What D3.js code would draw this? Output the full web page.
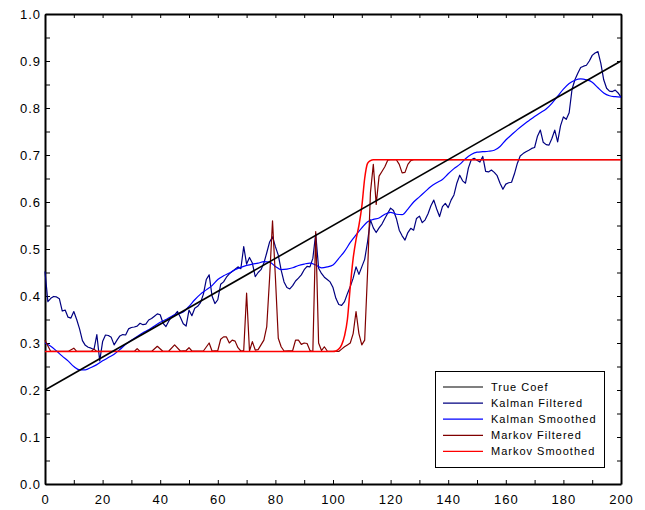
<!DOCTYPE html>
<html>
<head>
<meta charset="utf-8">
<script src="https://cdn.jsdelivr.net/npm/d3@7/dist/d3.min.js"></script>
<style>
  html, body { margin: 0; padding: 0; background: #fff; }
  svg { display: block; }
  .tick text { font-family: "Liberation Sans", Arial, sans-serif; font-size: 13px; letter-spacing: 1px; fill: #000; }
  .legend text { font-family: "Liberation Sans", Arial, sans-serif; font-size: 11px; letter-spacing: 1px; fill: #000; }
</style>
</head>
<body>
<script>
const chartWidth = 645;
const chartHeight = 510;

const margin = { top: 14, right: 24, bottom: 26, left: 45 };
const plotWidth = chartWidth - margin.left - margin.right;
const plotHeight = chartHeight - margin.top - margin.bottom;

// axis ticks (minor every other one, labels on the majors)
const xTickValues = [0, 10, 20, 30, 40, 50, 60, 70, 80, 90, 100, 110, 120, 130, 140, 150, 160, 170, 180, 190, 200];
const xTickLabels = [0, 20, 40, 60, 80, 100, 120, 140, 160, 180, 200];
const yTickValues = [0, 0.05, 0.1, 0.15, 0.2, 0.25, 0.3, 0.35, 0.4, 0.45, 0.5, 0.55, 0.6, 0.65, 0.7, 0.75, 0.8, 0.85, 0.9, 0.95, 1.0];
const yTickLabels = [0, 0.1, 0.2, 0.3, 0.4, 0.5, 0.6, 0.7, 0.8, 0.9, 1.0];

const seriesNames = ['True Coef', 'Kalman Filtered', 'Kalman Smoothed', 'Markov Filtered', 'Markov Smoothed'];
const seriesColours = ['#000000', '#000080', '#0000ff', '#800000', '#ff0000'];

// [t, value]
const trueCoef = [[0, 0.2], [200, 0.9]];

const kalmanFiltered = [
  [0, 0.452], [1, 0.388], [2, 0.395], [3, 0.399], [4, 0.398], [5, 0.394], [6, 0.368], [7, 0.370], [8, 0.355], [9, 0.353],
  [10, 0.367], [11, 0.350], [12, 0.330], [13, 0.305], [14, 0.295], [15, 0.291], [16, 0.289], [17, 0.286], [18, 0.318], [19, 0.262],
  [20, 0.303], [21, 0.317], [22, 0.316], [23, 0.312], [24, 0.296], [25, 0.306], [26, 0.315], [27, 0.318], [28, 0.317], [29, 0.330],
  [30, 0.333], [31, 0.334], [32, 0.336], [33, 0.342], [34, 0.339], [35, 0.340], [36, 0.349], [37, 0.352], [38, 0.357], [39, 0.362],
  [40, 0.360], [41, 0.342], [42, 0.335], [43, 0.347], [44, 0.356], [45, 0.360], [46, 0.367], [47, 0.355], [48, 0.341], [49, 0.336],
  [50, 0.370], [51, 0.358], [52, 0.374], [53, 0.378], [54, 0.386], [55, 0.404], [56, 0.435], [57, 0.445], [58, 0.400], [59, 0.384],
  [60, 0.392], [61, 0.425], [62, 0.430], [63, 0.440], [64, 0.447], [65, 0.452], [66, 0.457], [67, 0.462], [68, 0.458], [69, 0.505],
  [70, 0.468], [71, 0.482], [72, 0.470], [73, 0.441], [74, 0.450], [75, 0.456], [76, 0.470], [77, 0.492], [78, 0.515], [79, 0.526],
  [80, 0.505], [81, 0.487], [82, 0.455], [83, 0.430], [84, 0.418], [85, 0.415], [86, 0.422], [87, 0.432], [88, 0.438], [89, 0.445],
  [90, 0.456], [91, 0.463], [92, 0.462], [93, 0.480], [94, 0.533], [95, 0.459], [96, 0.448], [97, 0.440], [98, 0.435], [99, 0.430],
  [100, 0.418], [101, 0.395], [102, 0.382], [103, 0.380], [104, 0.388], [105, 0.405], [106, 0.420], [107, 0.438], [108, 0.462], [109, 0.446],
  [110, 0.462], [111, 0.478], [112, 0.515], [113, 0.562], [114, 0.545], [115, 0.535], [116, 0.545], [117, 0.553], [118, 0.565], [119, 0.576],
  [120, 0.587], [121, 0.582], [122, 0.565], [123, 0.540], [124, 0.528], [125, 0.519], [126, 0.535], [127, 0.544], [128, 0.540], [129, 0.565],
  [130, 0.570], [131, 0.556], [132, 0.562], [133, 0.575], [134, 0.592], [135, 0.604], [136, 0.585], [137, 0.569], [138, 0.590], [139, 0.597],
  [140, 0.588], [141, 0.604], [142, 0.615], [143, 0.640], [144, 0.657], [145, 0.645], [146, 0.640], [147, 0.672], [148, 0.690], [149, 0.693],
  [150, 0.689], [151, 0.685], [152, 0.697], [153, 0.665], [154, 0.664], [155, 0.668], [156, 0.663], [157, 0.656], [158, 0.640], [159, 0.627],
  [160, 0.638], [161, 0.641], [162, 0.642], [163, 0.660], [164, 0.682], [165, 0.698], [166, 0.703], [167, 0.707], [168, 0.710], [169, 0.714],
  [170, 0.716], [171, 0.740], [172, 0.753], [173, 0.727], [174, 0.722], [175, 0.721], [176, 0.735], [177, 0.753], [178, 0.728], [179, 0.762],
  [180, 0.781], [181, 0.776], [182, 0.790], [183, 0.840], [184, 0.860], [185, 0.874], [186, 0.886], [187, 0.889], [188, 0.891], [189, 0.900],
  [190, 0.912], [191, 0.917], [192, 0.920], [193, 0.895], [194, 0.860], [195, 0.842], [196, 0.836], [197, 0.835], [198, 0.838], [199, 0.832],
  [200, 0.823]
];

const kalmanSmoothed = [
  [0, 0.300], [2, 0.293], [4, 0.283], [6, 0.272], [8, 0.262], [10, 0.250], [12, 0.243], [14, 0.243], [16, 0.248], [18, 0.254],
  [20, 0.262], [22, 0.269], [24, 0.276], [26, 0.286], [28, 0.297], [30, 0.306], [32, 0.314], [34, 0.322], [36, 0.328], [38, 0.336],
  [40, 0.344], [42, 0.350], [44, 0.357], [46, 0.362], [48, 0.366], [50, 0.378], [52, 0.392], [54, 0.404], [56, 0.413], [58, 0.422],
  [60, 0.435], [62, 0.443], [64, 0.449], [66, 0.456], [68, 0.461], [70, 0.465], [72, 0.468], [74, 0.470], [76, 0.473], [78, 0.472],
  [80, 0.463], [82, 0.456], [84, 0.457], [86, 0.460], [88, 0.465], [90, 0.468], [92, 0.470], [94, 0.466], [96, 0.460], [98, 0.462],
  [100, 0.466], [102, 0.480], [104, 0.495], [106, 0.514], [108, 0.530], [110, 0.545], [112, 0.558], [114, 0.563], [116, 0.566], [118, 0.574],
  [120, 0.578], [122, 0.574], [124, 0.573], [126, 0.585], [128, 0.600], [130, 0.611], [132, 0.622], [134, 0.633], [136, 0.641], [138, 0.648],
  [140, 0.660], [142, 0.671], [144, 0.680], [146, 0.692], [148, 0.701], [150, 0.706], [152, 0.707], [154, 0.708], [156, 0.710], [158, 0.718],
  [160, 0.732], [162, 0.743], [164, 0.754], [166, 0.764], [168, 0.773], [170, 0.782], [172, 0.790], [174, 0.798], [176, 0.810], [178, 0.825],
  [180, 0.840], [182, 0.852], [184, 0.859], [186, 0.862], [188, 0.860], [190, 0.855], [192, 0.843], [194, 0.832], [196, 0.826], [198, 0.824],
  [200, 0.823]
];

const markovFiltered = [
  [0, 0.306], [2, 0.282], [8, 0.282], [10, 0.289], [11, 0.282], [16, 0.282], [17, 0.287], [18, 0.282], [31, 0.282], [32, 0.288],
  [33, 0.282], [37, 0.282], [39, 0.293], [41, 0.282], [43, 0.283], [45, 0.296], [47, 0.283], [49, 0.284], [50, 0.290], [51, 0.283],
  [55, 0.283], [57, 0.300], [58, 0.283], [60, 0.284], [61, 0.308], [62, 0.313], [63, 0.313], [64, 0.300], [65, 0.306], [66, 0.304],
  [67, 0.290], [68, 0.283], [69, 0.284], [70, 0.406], [71, 0.283], [72, 0.303], [73, 0.285], [74, 0.286], [75, 0.296], [76, 0.306],
  [77, 0.335], [78, 0.440], [79, 0.560], [80, 0.440], [81, 0.310], [82, 0.292], [83, 0.283], [86, 0.284], [87, 0.306], [88, 0.306],
  [89, 0.297], [90, 0.300], [91, 0.299], [92, 0.284], [93, 0.282], [94, 0.537], [95, 0.300], [96, 0.284], [97, 0.292], [98, 0.283],
  [102, 0.282], [103, 0.287], [104, 0.292], [105, 0.296], [106, 0.300], [107, 0.320], [108, 0.367], [109, 0.320], [110, 0.296], [111, 0.306],
  [112, 0.450], [113, 0.620], [114, 0.680], [115, 0.595], [116, 0.655], [117, 0.665], [118, 0.675], [119, 0.689], [120, 0.690], [122, 0.690],
  [123, 0.680], [124, 0.662], [125, 0.663], [126, 0.680], [127, 0.688], [128, 0.690], [200, 0.690]
];

const markovSmoothed = [
  [0, 0.282], [100, 0.282], [101, 0.283], [102, 0.287], [103, 0.296], [104, 0.315], [105, 0.350], [106, 0.420], [107, 0.480], [108, 0.520],
  [109, 0.550], [110, 0.590], [111, 0.650], [112, 0.682], [113, 0.688], [114, 0.690], [200, 0.690]
];

const svg = d3.select('body').append('svg')
    .attr('width', chartWidth)
    .attr('height', chartHeight);

svg.append('rect')
    .attr('width', chartWidth)
    .attr('height', chartHeight)
    .attr('fill', '#fff');

const container = svg.append('g')
    .attr('transform', `translate(${margin.left},${margin.top})`);

const xScale = d3.scaleLinear().domain([0, 200]).range([0, plotWidth]);
const yScale = d3.scaleLinear().domain([0, 1]).range([plotHeight, 0]);

// axes: ticks point inward on all four sides
const xLabelSet = new Set(xTickLabels);
const yLabelSet = new Set(yTickLabels.map(v => v.toFixed(2)));

const styleAxis = g => {
  g.select('.domain').attr('stroke', '#000').attr('stroke-width', 2);
  g.selectAll('.tick line').attr('stroke', '#000').attr('stroke-width', 1);
};

container.append('g')
    .attr('transform', `translate(0,${plotHeight})`)
    .call(d3.axisBottom(xScale)
      .tickValues(xTickValues)
      .tickSize(-4)
      .tickSizeOuter(0)
      .tickPadding(11)
      .tickFormat(d => xLabelSet.has(d) ? String(d) : ''))
    .call(styleAxis);

container.append('g')
    .call(d3.axisTop(xScale)
      .tickValues(xTickValues)
      .tickSize(-4)
      .tickSizeOuter(0)
      .tickFormat(''))
    .call(styleAxis);

container.append('g')
    .call(d3.axisLeft(yScale)
      .tickValues(yTickValues)
      .tickSize(-5)
      .tickSizeOuter(0)
      .tickPadding(4)
      .tickFormat(d => yLabelSet.has(d.toFixed(2)) ? d.toFixed(1) : ''))
    .call(styleAxis);

container.append('g')
    .attr('transform', `translate(${plotWidth},0)`)
    .call(d3.axisRight(yScale)
      .tickValues(yTickValues)
      .tickSize(-4)
      .tickSizeOuter(0)
      .tickFormat(''))
    .call(styleAxis);

// lines
const straight = d3.line()
    .x(d => xScale(d[0]))
    .y(d => yScale(d[1]));

const smooth = d3.line()
    .curve(d3.curveMonotoneX)
    .x(d => xScale(d[0]))
    .y(d => yScale(d[1]));

const linesContainer = container.append('g').attr('fill', 'none');

const series = [
  { data: kalmanFiltered, line: straight, colour: seriesColours[1], width: 1.2 },
  { data: kalmanSmoothed, line: smooth, colour: seriesColours[2], width: 1.2 },
  { data: markovFiltered, line: straight, colour: seriesColours[3], width: 1.2 },
  { data: markovSmoothed, line: smooth, colour: seriesColours[4], width: 1.5 },
  { data: trueCoef, line: straight, colour: seriesColours[0], width: 1.6 }
];

series.forEach(s => {
  linesContainer.append('path')
      .attr('d', s.line(s.data))
      .attr('stroke', s.colour)
      .attr('stroke-width', s.width)
      .attr('stroke-linejoin', 'round');
});

// legend
const legend = svg.append('g')
    .attr('class', 'legend')
    .attr('transform', 'translate(435,371)');

legend.append('rect')
    .attr('x', 0.5)
    .attr('y', 0.5)
    .attr('width', 169)
    .attr('height', 96)
    .attr('fill', '#fff')
    .attr('stroke', '#000')
    .attr('stroke-width', 1);

const keyElements = legend.selectAll('g.key')
    .data(seriesNames)
  .enter().append('g')
    .attr('class', 'key')
    .attr('transform', (d, i) => `translate(0,${16 + i * 16.1})`);

keyElements.append('line')
    .attr('x1', 8)
    .attr('x2', 48)
    .attr('y1', 0)
    .attr('y2', 0)
    .attr('stroke-width', 1.2)
    .attr('stroke', (d, i) => seriesColours[i]);

keyElements.append('text')
    .attr('x', 56)
    .attr('dy', '0.36em')
    .text(d => d);
</script>
</body>
</html>
